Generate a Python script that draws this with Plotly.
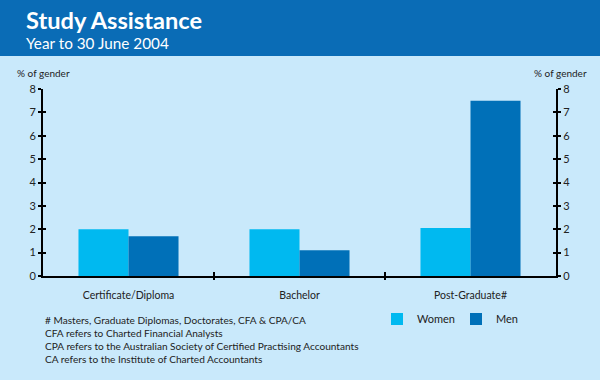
import plotly.graph_objects as go

categories = ["Certificate/Diploma", "Bachelor", "Post-Graduate#"]
women = [2.0, 2.0, 2.05]
men = [1.7, 1.1, 7.5]
y_ticks = [0, 1, 2, 3, 4, 5, 6, 7, 8]

title = "Study Assistance"
subtitle = "Year to 30 June 2004"
footnotes = [
    "# Masters, Graduate Diplomas, Doctorates, CFA & CPA/CA",
    "CFA refers to Charted Financial Analysts",
    "CPA refers to the Australian Society of Certified Practising Accountants",
    "CA refers to the Institute of Charted Accountants",
]

W, H = 600, 380
L, R, T, B = 43, 44, 89, 104
PW, PH = W - L - R, H - T - B

def px(x):
    return (x - L) / PW

def py(y):
    return (H - B - y) / PH

FONT = "Lato"
BG = "#c9e9fb"
BANNER = "#0a6cb6"
C_WOMEN = "#00b9f0"
C_MEN = "#0070b8"

fig = go.Figure()
fig.add_trace(go.Bar(x=categories, y=women, name="Women", marker=dict(color=C_WOMEN, line=dict(width=0))))
fig.add_trace(go.Bar(x=categories, y=men, name="Men", marker=dict(color=C_MEN, line=dict(width=0))))
# helper empty traces so overlay axes render
for ya in ["y2", "y3", "y4"]:
    fig.add_trace(go.Scatter(x=categories, y=[None] * 3, yaxis=ya, showlegend=False, hoverinfo="skip", mode="markers"))

axis_common = dict(range=[0, 8], tickvals=y_ticks, showgrid=False, zeroline=False,
                   showline=True, linecolor="black", linewidth=2,
                   tickcolor="black", tickwidth=2, ticklen=3,
                   tickfont=dict(family=FONT, size=11, color="#222"))

fig.update_layout(
    width=W, height=H,
    margin=dict(l=L, r=R, t=T, b=B, pad=0),
    paper_bgcolor=BG, plot_bgcolor=BG,
    barmode="group", bargap=0.415, bargroupgap=0,
    showlegend=True,
    legend=dict(orientation="h", x=px(377), y=py(319), xanchor="left", yanchor="middle",
                bgcolor="rgba(0,0,0,0)", font=dict(family=FONT, size=11, color="#222"),
                itemwidth=30, entrywidth=34, traceorder="normal"),
    xaxis=dict(showgrid=False, zeroline=False, showline=True, linecolor="black", linewidth=2,
               ticks="", tickfont=dict(family=FONT, size=10.5, color="#222"), ticklabelstandoff=8),
    yaxis=dict(side="left", ticks="outside", **axis_common),
    yaxis2=dict(side="right", overlaying="y", ticks="outside", **axis_common),
    yaxis3=dict(side="left", overlaying="y", ticks="inside", showticklabels=False, **axis_common),
    yaxis4=dict(side="right", overlaying="y", ticks="inside", showticklabels=False, **axis_common),
)

shapes = [
    dict(type="rect", xref="paper", yref="paper", x0=px(0), x1=px(W), y0=py(56), y1=py(0),
         fillcolor=BANNER, line=dict(width=0), layer="above"),
]
for b in [0.5, 1.5]:
    shapes.append(dict(type="line", xref="x", yref="paper", x0=b, x1=b, y0=py(280), y1=py(272),
                       line=dict(color="black", width=2)))
fig.update_layout(shapes=shapes)

ann = [
    dict(text="<b>" + title + "</b>", x=px(24), y=py(20), font=dict(family=FONT, size=23.6, color="white")),
    dict(text=subtitle, x=px(24), y=py(43), font=dict(family=FONT, size=15.3, color="white")),
    dict(text="% of gender", x=px(15), y=py(73), font=dict(family=FONT, size=10, color="#222")),
    dict(text="% of gender", x=px(532), y=py(73), font=dict(family=FONT, size=10, color="#222")),
    dict(text="<br>".join(footnotes), x=px(43), y=py(312), yanchor="top", align="left",
         font=dict(family=FONT, size=10.1, color="#222")),
]
for a in ann:
    a.setdefault("yanchor", "middle")
    fig.add_annotation(xref="paper", yref="paper", xanchor="left", showarrow=False, **a)

fig.write_html("out.html", config={"displayModeBar": False},
               post_script="document.body.style.margin='0';document.body.style.background='" + BG + "';")
